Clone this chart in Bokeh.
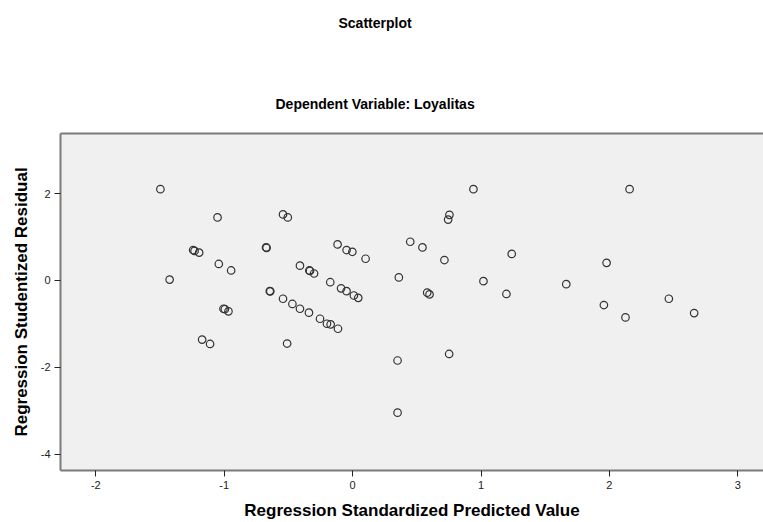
from bokeh.plotting import figure
from bokeh.layouts import column
from bokeh.models import Range1d, FixedTicker, LinearAxis, Title, ColumnDataSource
from bokeh.embed import file_html
from bokeh.resources import INLINE

# Regression Standardized Predicted Value
pred = [
    -1.497, -1.052, -1.242, -1.231, -1.195, -1.042, -0.946, -1.425,
    -1.006, -0.995, -0.967, -1.172, -1.110,
    -0.542, -0.505, -0.674, -0.670, -0.117, -0.047, -0.002, 0.101,
    -0.410, -0.337, -0.332, -0.300, -0.174, -0.090, -0.047, 0.010, 0.044,
    -0.645, -0.641, -0.542, -0.469, -0.410, -0.340,
    -0.254, -0.200, -0.171, -0.114, -0.510,
    0.941, 0.754, 0.744, 0.449, 0.544, 0.715, 1.239, 0.360, 1.019,
    0.581, 0.599, 1.198,
    0.350, 0.350, 0.752, 1.664, 1.978, 1.957, 2.157, 2.125, 2.463, 2.660,
]
# Regression Studentized Residual
resid = [
    2.10, 1.45, 0.70, 0.68, 0.64, 0.38, 0.23, 0.02,
    -0.65, -0.66, -0.71, -1.36, -1.46,
    1.52, 1.45, 0.76, 0.75, 0.83, 0.70, 0.66, 0.50,
    0.34, 0.23, 0.22, 0.16, -0.04, -0.18, -0.245, -0.345, -0.40,
    -0.245, -0.25, -0.42, -0.54, -0.65, -0.74,
    -0.88, -0.995, -1.01, -1.11, -1.45,
    2.10, 1.51, 1.40, 0.89, 0.76, 0.47, 0.61, 0.07, -0.015,
    -0.28, -0.32, -0.31,
    -1.84, -3.04, -1.69, -0.085, 0.405, -0.565, 2.10, -0.85, -0.42, -0.75,
]
x_ticks = [-2, -1, 0, 1, 2, 3]
y_ticks = [-4, -2, 0, 2]

main_title = "Scatterplot"
sub_title = "Dependent Variable: Loyalitas"
x_label = "Regression Standardized Predicted Value"
y_label = "Regression Studentized Residual"

FONT = "Liberation Sans"
FRAME = "#7b7b7b"
title_style = dict(align="left", text_font=FONT, text_font_size="14px",
                   text_font_style="bold", text_color="black")

# --- strip holding the main title ---
head = figure(frame_width=703, frame_height=2, output_backend="svg",
              toolbar_location=None, x_range=Range1d(0, 1), y_range=Range1d(0, 1),
              x_axis_location=None, y_axis_location=None,
              min_border_left=60, min_border_right=0, min_border_top=0,
              min_border_bottom=0, title=None)
head.outline_line_color = None
head.background_fill_color = "white"
head.border_fill_color = "white"
head.grid.visible = False
head.add_layout(Title(text=main_title, standoff=24, offset=278, **title_style), "above")

# --- main scatter plot ---
p = figure(frame_width=703, frame_height=337, output_backend="svg",
           toolbar_location=None,
           x_range=Range1d(-2.275, 3.2), y_range=Range1d(-4.37, 3.38),
           x_axis_location=None, y_axis_location=None,
           min_border_left=60, min_border_right=0, min_border_top=89,
           min_border_bottom=52, title=None)
p.background_fill_color = "#f0f0f0"
p.border_fill_color = "white"
p.outline_line_color = None
p.grid.visible = False

xax = LinearAxis(axis_label=x_label, ticker=FixedTicker(ticks=x_ticks),
                 major_label_overrides={t: str(t) for t in x_ticks})
yax = LinearAxis(axis_label=y_label, ticker=FixedTicker(ticks=y_ticks),
                 major_label_overrides={t: str(t) for t in y_ticks})
for ax in (xax, yax):
    ax.axis_line_color = FRAME
    ax.axis_line_width = 2
    ax.major_tick_line_color = "#222222"
    ax.major_tick_line_width = 1
    ax.major_tick_out = 6
    ax.major_tick_in = 0
    ax.minor_tick_line_color = None
    ax.major_label_text_font = FONT
    ax.major_label_text_font_size = "11px"
    ax.major_label_text_color = "#222222"
    ax.axis_label_text_font = FONT
    ax.axis_label_text_font_size = "17px"
    ax.axis_label_text_font_style = "bold"
    ax.axis_label_text_color = "black"
xax.major_label_standoff = 4
xax.axis_label_standoff = 9
yax.major_label_standoff = 4
yax.axis_label_standoff = 7
p.add_layout(xax, "below")
p.add_layout(yax, "left")

# top frame line: an axis with no ticks and no labels
top_line = LinearAxis(ticker=FixedTicker(ticks=[]), axis_line_color=FRAME,
                      axis_line_width=2, major_tick_out=0, major_tick_in=0,
                      minor_tick_out=0, minor_tick_in=0, major_label_standoff=0)
p.add_layout(top_line, "above")
p.add_layout(Title(text=sub_title, standoff=44, offset=215, **title_style), "above")

src = ColumnDataSource(dict(x=pred, y=resid))
p.scatter("x", "y", source=src, marker="circle", size=7.5, fill_color=None,
          line_color="#333333", line_width=1.2)

page = column(head, p, spacing=0)
open("out.html", "w").write(file_html(page, INLINE))
